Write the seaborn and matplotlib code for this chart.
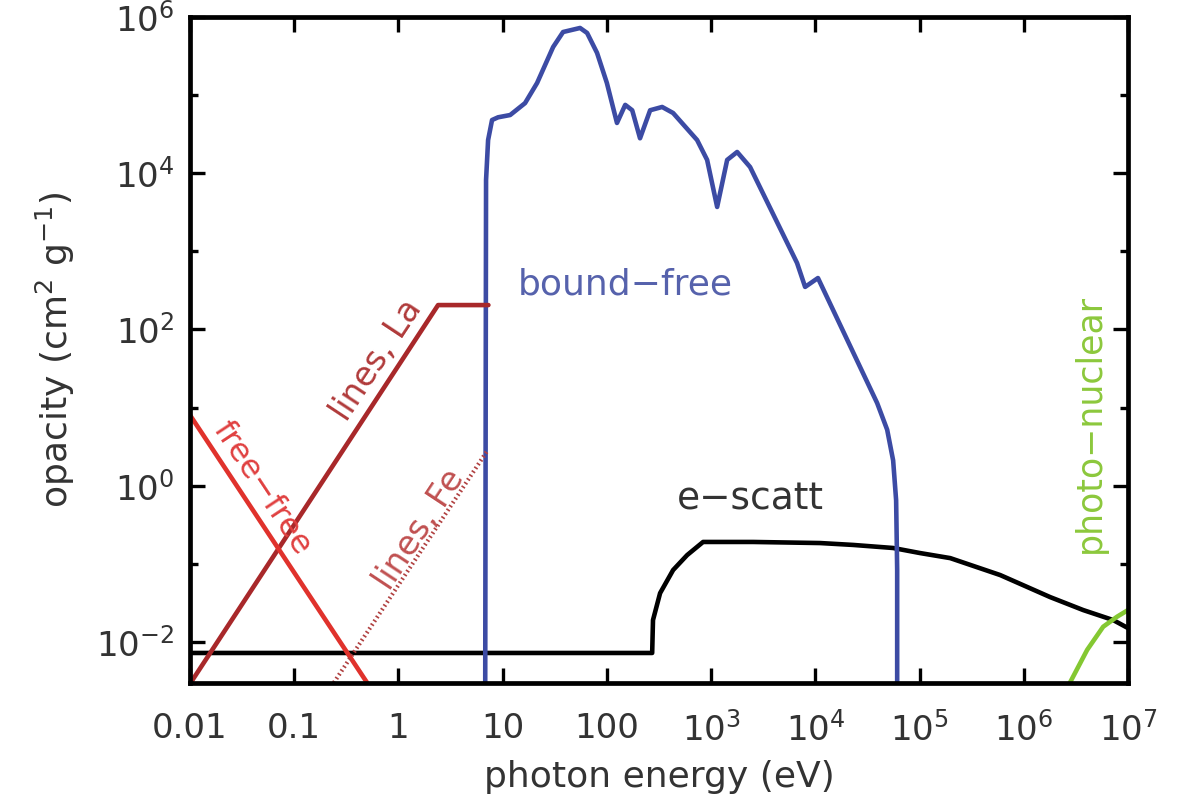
import numpy as np
import pandas as pd
import matplotlib
matplotlib.use("Agg")
import matplotlib.pyplot as plt
import seaborn as sns
from matplotlib.ticker import FixedLocator, FixedFormatter, NullFormatter

# ---------------- data ----------------
ff_energy = [0.01, 0.5]
ff_opacity = [8.0, 0.0030]

la_energy = [0.01, 2.4, 7.3]
la_opacity = [0.0029, 205.0, 205.0]

fe_energy = [0.24, 7.2]
fe_opacity = [0.0030, 2.86]

bf_energy = [6.8, 6.93, 7.25, 7.91, 9.04, 11.8, 16.4, 21.4, 30.5, 38.0, 55.3,
             64.6, 80.5, 100.0, 125.0, 150.0, 175.0, 208.0, 260.0, 339.0, 432.0,
             734.0, 916.0, 1143.0, 1426.0, 1778.0, 2366.0, 6680.0, 7980.0,
             10600.0, 39200.0, 48900.0, 55800.0, 59600.0, 61000.0, 61000.0]
bf_opacity = [0.002, 8.2e3, 2.66e4, 4.8e4, 5.2e4, 5.56e4, 7.9e4, 1.43e5, 4.13e5,
              6.43e5, 7.24e5, 6.25e5, 3.47e5, 1.43e5, 4.4e4, 7.5e4, 6.4e4, 2.8e4,
              6.4e4, 7.05e4, 5.9e4, 2.66e4, 1.48e4, 3.7e3, 1.48e4, 1.87e4, 1.2e4,
              708.0, 350.0, 455.0, 11.4, 5.2, 2.1, 0.65, 0.083, 0.002]

es_energy = [0.01, 272.0, 277.0, 324.0, 432.0, 589.0, 838.0, 2530.0, 11100.0,
             23100.0, 55800.0, 1.01e5, 1.97e5, 5.94e5, 1.79e6, 3.72e6, 7.21e6, 1e7]
es_opacity = [0.0072, 0.0072, 0.019, 0.042, 0.083, 0.129, 0.19, 0.19, 0.184,
              0.174, 0.159, 0.137, 0.118, 0.0716, 0.0374, 0.0255, 0.019, 0.015]

pn_energy = [2.7e6, 4.06e6, 5.78e6, 7.87e6, 1e7]
pn_opacity = [0.0028, 0.0079, 0.0156, 0.021, 0.0255]

x_ticks = [1e-2, 1e-1, 1, 10, 100, 1e3, 1e4, 1e5, 1e6, 1e7]
x_ticklabels = ["0.01", "0.1", "1", "10", "100", r"$10^{3}$", r"$10^{4}$",
                r"$10^{5}$", r"$10^{6}$", r"$10^{7}$"]
y_major = [1e-2, 1, 1e2, 1e4, 1e6]
y_ticklabels = [r"$10^{-2}$", r"$10^{0}$", r"$10^{2}$", r"$10^{4}$", r"$10^{6}$"]
y_minor = [1e-1, 10, 1e3, 1e5]

# ---------------- style ----------------
sns.set_theme(style="ticks")
plt.rcParams['font.family'] = ['DejaVu Sans']
plt.rcParams['mathtext.fontset'] = 'dejavusans'

fig = plt.figure(figsize=(11.83, 7.99), dpi=100)
ax = fig.add_axes([0.1606, 0.1452, 0.7929, 0.8335])

C_BLUE = "#3c4ba4"
C_RED = "#e0322c"
C_DRED = "#a8282a"
C_FE = "#b04040"
C_GREEN = "#84c832"
LW = 3.3

def draw(x, y, color, lw=LW):
    df = pd.DataFrame({"energy": x, "opacity": y})
    sns.lineplot(data=df, x="energy", y="opacity", ax=ax, color=color,
                 linewidth=lw, sort=False, estimator=None, legend=False)
    ln = ax.lines[-1]
    ln.set_solid_joinstyle("round")
    ln.set_solid_capstyle("round")
    return ln

draw(es_energy, es_opacity, "black")
draw(bf_energy, bf_opacity, C_BLUE)
draw(la_energy, la_opacity, C_DRED)
draw(ff_energy, ff_opacity, C_RED)
fe_line = draw(fe_energy, fe_opacity, C_FE, lw=3.0)
fe_line.set_linestyle((0, (0.4, 0.7)))
fe_line.set_dash_capstyle("butt")
draw(pn_energy, pn_opacity, C_GREEN)

ax.set_xscale("log")
ax.set_yscale("log")
ax.set_xlim(1e-2, 1e7)
ax.set_ylim(10 ** -2.527, 1e6)

ax.xaxis.set_major_locator(FixedLocator(x_ticks))
ax.xaxis.set_major_formatter(FixedFormatter(x_ticklabels))
ax.xaxis.set_minor_locator(FixedLocator([]))
ax.yaxis.set_major_locator(FixedLocator(y_major))
ax.yaxis.set_major_formatter(FixedFormatter(y_ticklabels))
ax.yaxis.set_minor_locator(FixedLocator(y_minor))
ax.yaxis.set_minor_formatter(NullFormatter())

ax.tick_params(which="both", direction="in", top=True, right=True,
               colors="black", labelcolor="#333333", labelsize=24.5, width=2.4)
ax.tick_params(which="major", length=11)
ax.tick_params(which="minor", length=6)
ax.tick_params(axis="x", pad=21)
ax.tick_params(axis="y", pad=11)
for sp in ax.spines.values():
    sp.set_linewidth(3.4)
    sp.set_color("black")
    sp.set_visible(True)

ax.set_xlabel("photon energy (eV)", fontsize=26, color="#333333", labelpad=9)
ax.set_ylabel(r"opacity (cm$^{2}$ g$^{-1}$)", fontsize=26, color="#333333", labelpad=14)

# annotations
ax.text(0.049, 0.93, "free\u2212free", color="#e04040", fontsize=23,
        rotation=-56.5, ha="center", va="center", rotation_mode="anchor")
ax.text(0.62, 40.6, "lines, La", color="#b03a3a", fontsize=24,
        rotation=56.5, ha="center", va="center", rotation_mode="anchor")
ax.text(1.6, 0.27, "lines, Fe", color="#c05050", fontsize=24,
        rotation=56.5, ha="center", va="center", rotation_mode="anchor")
ax.text(150, 381, "bound\u2212free", color="#5662ac", fontsize=26,
        ha="center", va="center")
ax.text(2366, 0.655, "e\u2212scatt", color="#333333", fontsize=27,
        ha="center", va="center")
ax.text(4.34e6, 6.3, "photo\u2212nuclear", color="#8cc83c", fontsize=25,
        rotation=90, ha="center", va="center", rotation_mode="anchor")

fig.savefig("out.png", dpi=100)
